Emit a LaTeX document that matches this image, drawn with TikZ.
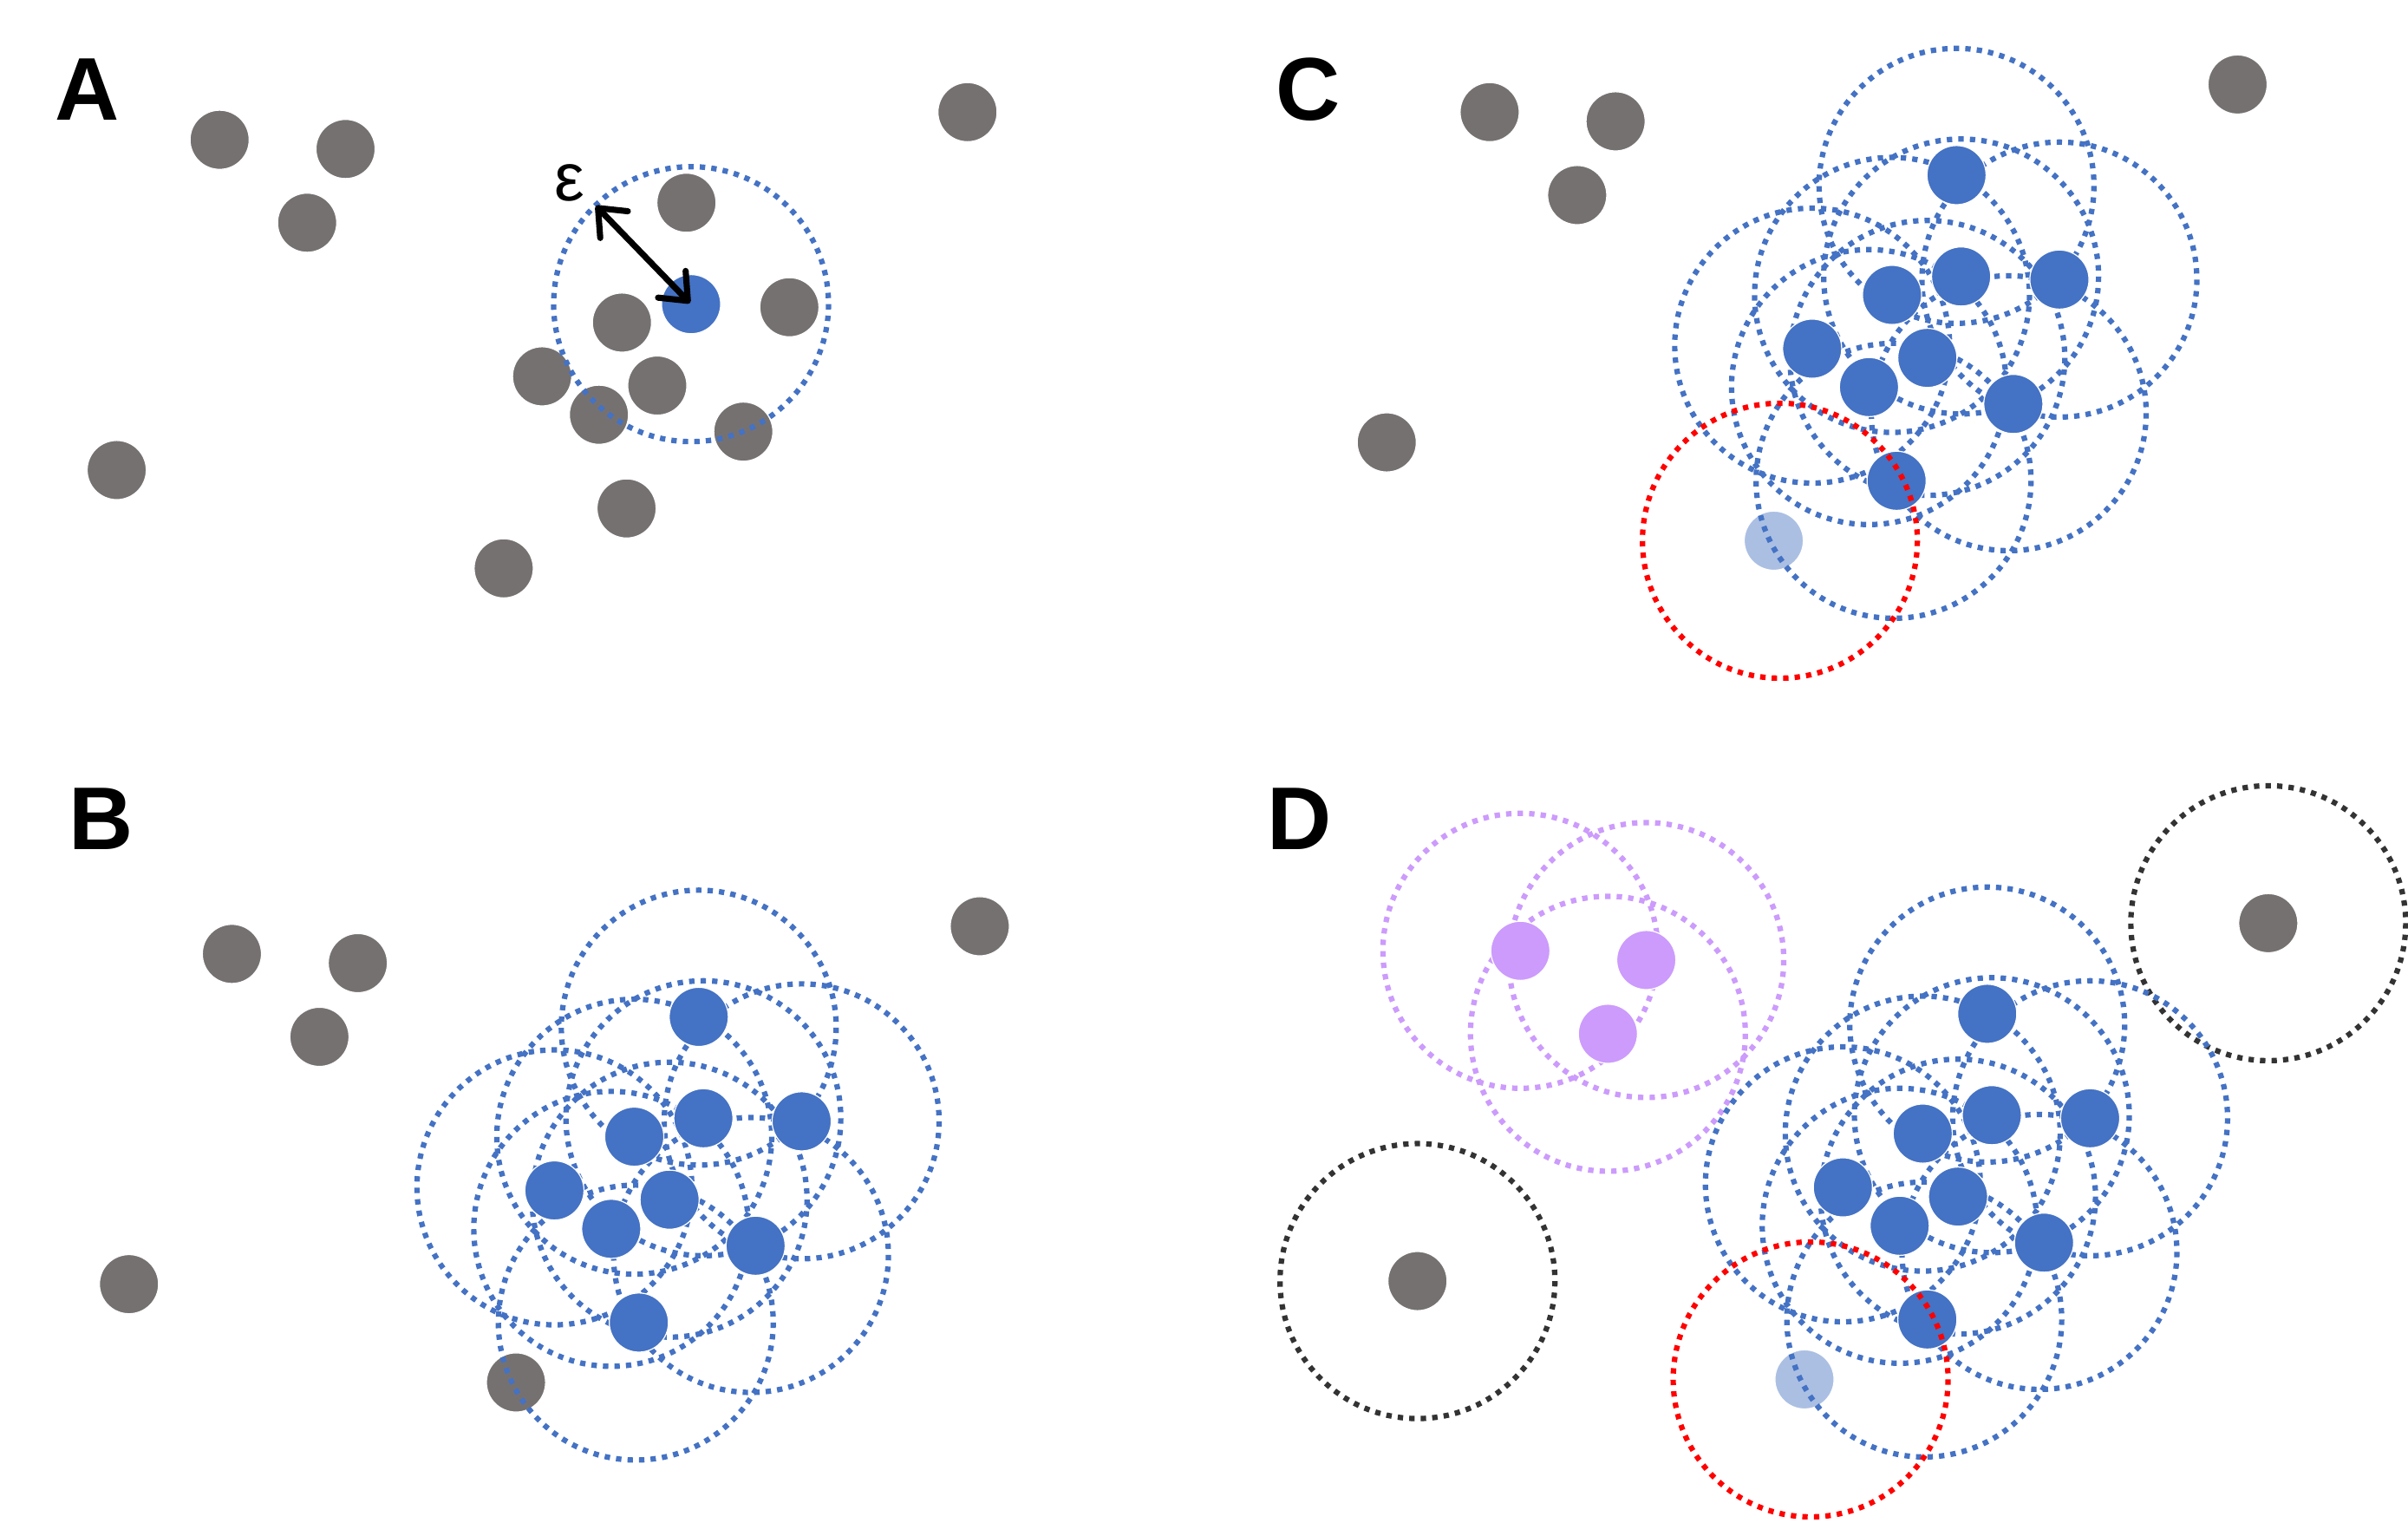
\documentclass[tikz,border=0pt]{standalone}
\usepackage{fontspec}
\setmainfont{Liberation Sans}
\usetikzlibrary{arrows.meta}
\definecolor{dotgray}{HTML}{767171}
\definecolor{dotblue}{HTML}{4472C4}
\definecolor{lightblue}{HTML}{ABBFE3}
\definecolor{dotpurple}{HTML}{CC9BFC}
\definecolor{ringred}{HTML}{FF0000}
\definecolor{ringblack}{HTML}{333333}
\tikzset{
  dotbase/.style={circle,minimum size=38.5pt,inner sep=0pt,outer sep=0pt,draw=white,line width=0.7pt},
  gdot/.style={dotbase,fill=dotgray},
  bdot/.style={dotbase,fill=dotblue},
  ldot/.style={dotbase,fill=lightblue},
  pdot/.style={dotbase,fill=dotpurple},
  ringbase/.style={line width=3.5pt,dash pattern=on 3.5pt off 4pt},
  bluering/.style={ringbase,draw=dotblue},
  redring/.style={ringbase,draw=ringred},
  purplering/.style={ringbase,draw=dotpurple},
  blackring/.style={ringbase,draw=ringblack},
  epsarrow/.style={line width=4pt,line cap=round,
    {Straight Barb[length=15pt,width=25pt,round]}-{Straight Barb[length=15pt,width=25pt,round]},shorten >=1pt},
  epsfont/.style={font=\fontsize{44}{44}\selectfont,inner sep=0pt},
  paneltag/.style={font=\bfseries\fontsize{58}{58}\selectfont,inner sep=0pt}
}
% name / dot x / dot y / ring offset x / ring offset y
\def\ptsblue{b1/447/132/0/7,b2/450/198/0/0,b3/514/200/0/0,b4/405/210/0/0,b5/353/245/0/-2,b6/428/251/0/0,b7/390/270/0/0,b8/484/281/-3/6,b9/408/331/-2/0}
\def\ptsgray{g1/143/91,g2/225/97,g3/200/145,g4/630/73,g5/76/306}
\def\rr{89.5}
\begin{document}
\begin{tikzpicture}[x=1pt,y=-1pt]
\useasboundingbox (0,0) rectangle (1568,991);
\fill[white] (0,0) rectangle (1568,991);

% ---------- Panel A ----------
\begin{scope}
\foreach \n/\x/\y in {g1/143/91,g2/225/97,g3/200/145,g4/630/73,g5/76/306,b1/447/132,b3/514/200,b4/405/210,b5/353/245,b6/428/251,b7/390/270,b8/484/281,b9/408/331,l/328/370}
  {\node[gdot] (A-\n) at (\x,\y) {};}
\coordinate (A-b2c) at (450,198);
\draw[bluering] (A-b2c) circle[radius=\rr];
\node[bdot] (A-b2) at (A-b2c) {};
\coordinate (A-epsend) at (388,134);
\draw[epsarrow] (A-epsend) -- (A-b2.center);
\node[epsfont] (A-eps) at (371,119) {ε};
\end{scope}

% ---------- Panel B ----------
\begin{scope}[shift={(8,530)}]
\foreach \n/\x/\y in {g1/143/91,g2/225/97,g3/200/145,g4/630/73,g5/76/306,l/328/370}
  {\node[gdot] (B-\n) at (\x,\y) {};}
\foreach \n/\x/\y/\dx/\dy in \ptsblue
  {\coordinate (B-\n c) at (\x+\dx,\y+\dy); \draw[bluering] (B-\n c) circle[radius=\rr];}
\foreach \n/\x/\y/\dx/\dy in \ptsblue
  {\node[bdot] (B-\n) at (\x,\y) {};}
\end{scope}

% ---------- Panel C ----------
\begin{scope}[shift={(827,-18)}]
\foreach \n/\x/\y in \ptsgray
  {\node[gdot] (C-\n) at (\x,\y) {};}
\node[ldot] (C-l) at (328,370) {};
\foreach \n/\x/\y/\dx/\dy in \ptsblue
  {\coordinate (C-\n c) at (\x+\dx,\y+\dy); \draw[bluering] (C-\n c) circle[radius=\rr];}
\foreach \n/\x/\y/\dx/\dy in \ptsblue
  {\node[bdot] (C-\n) at (\x,\y) {};}
\coordinate (C-lc) at (332,370);
\draw[redring] (C-lc) circle[radius=\rr];
\end{scope}

% ---------- Panel D ----------
\begin{scope}[shift={(847,528)}]
\foreach \n/\x/\y in {g1/143/91,g2/225/97,g3/200/145}
  {\coordinate (D-\n c) at (\x,\y); \draw[purplering] (D-\n c) circle[radius=\rr];}
\foreach \n/\x/\y in {g1/143/91,g2/225/97,g3/200/145}
  {\node[pdot] (D-\n) at (D-\n c) {};}
\foreach \n/\x/\y in {g4/630/73,g5/76/306}
  {\node[gdot] (D-\n) at (\x,\y) {}; \draw[blackring] (D-\n.center) circle[radius=\rr];}
\node[ldot] (D-l) at (328,370) {};
\foreach \n/\x/\y/\dx/\dy in \ptsblue
  {\coordinate (D-\n c) at (\x+\dx,\y+\dy); \draw[bluering] (D-\n c) circle[radius=\rr];}
\foreach \n/\x/\y/\dx/\dy in \ptsblue
  {\node[bdot] (D-\n) at (\x,\y) {};}
\coordinate (D-lc) at (332,370);
\draw[redring] (D-lc) circle[radius=\rr];
\end{scope}

% ---------- Panel tags ----------
\node[paneltag] (tagA) at (57,58) {A};
\node[paneltag] (tagB) at (66,533) {B};
\node[paneltag] (tagC) at (852,58) {C};
\node[paneltag] (tagD) at (846,533) {D};
\end{tikzpicture}
\end{document}
